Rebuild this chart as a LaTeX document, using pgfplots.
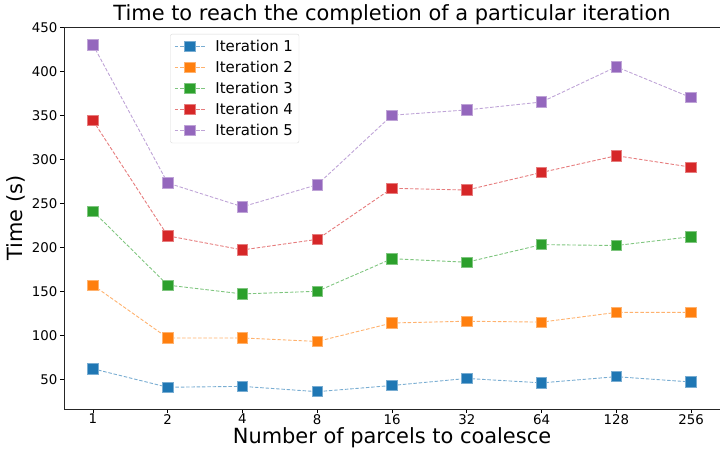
\documentclass[border=0pt]{standalone}
\usepackage{pgfplots}
\pgfplotsset{compat=1.18}
\usepackage{fontspec}
\setmainfont{DejaVu Sans}
\definecolor{c0}{HTML}{1F77B4}
\definecolor{c1}{HTML}{FF7F0E}
\definecolor{c2}{HTML}{2CA02C}
\definecolor{c3}{HTML}{D62728}
\definecolor{c4}{HTML}{9467BD}
\colorlet{e0}{c0!60!white}
\colorlet{e1}{c1!60!white}
\colorlet{e2}{c2!60!white}
\colorlet{e3}{c3!60!white}
\colorlet{e4}{c4!60!white}
\pgfplotsset{
  iterbase/.style={line width=0.9bp, dash pattern=on 3.5bp off 1.8bp,
    mark=square*, mark size=5.2bp},
  s0/.style={iterbase, draw=e0, mark options={solid, fill=c0, draw=e0, line width=0.8bp}},
  s1/.style={iterbase, draw=e1, mark options={solid, fill=c1, draw=e1, line width=0.8bp}},
  s2/.style={iterbase, draw=e2, mark options={solid, fill=c2, draw=e2, line width=0.8bp}},
  s3/.style={iterbase, draw=e3, mark options={solid, fill=c3, draw=e3, line width=0.8bp}},
  s4/.style={iterbase, draw=e4, mark options={solid, fill=c4, draw=e4, line width=0.8bp}},
}
\begin{document}
\begin{tikzpicture}
\begin{axis}[
  name=ax,
  scale only axis,
  width=656bp, height=382bp,
  xmin=-0.387, xmax=8.387,
  ymin=16.3, ymax=450.2,
  xtick={0,...,8},
  xticklabels={1,2,4,8,16,32,64,128,256},
  ytick={50,100,...,450},
  tick align=outside,
  xtick pos=bottom, ytick pos=left,
  major tick length=3.5bp,
  tick style={black, line width=0.8bp},
  axis line style={black!85, line width=0.9bp},
  /pgf/number format/assume math mode=true,
  /pgf/number format/1000 sep={},
  tick label style={font=\fontsize{13.4}{15}\selectfont, inner sep=0pt},
  xticklabel style={yshift=-1.5bp},
  yticklabel style={xshift=-3bp},
  title={Time to reach the completion of a particular iteration},
  title style={at={(axis description cs:0.5,1.0026)}, anchor=base, font=\fontsize{21}{24}\selectfont},
  xlabel={Number of parcels to coalesce},
  xlabel style={at={(axis description cs:0.5,-0.0916)}, anchor=base, font=\fontsize{21}{24}\selectfont},
  ylabel={Time (s)},
  ylabel style={at={(axis description cs:-0.064,0.5)}, anchor=base, font=\fontsize{21}{24}\selectfont},
  legend style={
    at={(axis description cs:0.162,0.982)}, anchor=north west,
    draw=black!15, rounded corners=2bp, fill=white,
    font=\fontsize{15}{17}\selectfont, row sep=4.2bp,
    inner xsep=4bp, inner ysep=4bp,
    /tikz/every odd column/.append style={column sep=8bp},
  },
  legend cell align=left,
  legend image code/.code={
    \draw[#1, mark repeat=2, mark phase=2] plot coordinates {(0bp,0bp) (15bp,0bp) (30bp,0bp)};
  },
]
\addplot[s0] coordinates {(0,62) (1,41) (2,42) (3,36) (4,43) (5,51) (6,46) (7,53) (8,47)};
\addlegendentry{Iteration 1}
\addplot[s1] coordinates {(0,157) (1,97) (2,97) (3,93) (4,114) (5,116) (6,115) (7,126) (8,126)};
\addlegendentry{Iteration 2}
\addplot[s2] coordinates {(0,241) (1,157) (2,147) (3,150) (4,187) (5,183) (6,203) (7,202) (8,212)};
\addlegendentry{Iteration 3}
\addplot[s3] coordinates {(0,344) (1,213) (2,197) (3,209) (4,267) (5,265) (6,285) (7,304) (8,291)};
\addlegendentry{Iteration 4}
\addplot[s4] coordinates {(0,430) (1,273) (2,246) (3,271) (4,350) (5,356) (6,365) (7,405) (8,370)};
\addlegendentry{Iteration 5}
\end{axis}
\pgfresetboundingbox
\path (ax.south west) ++(-64bp,-41bp) rectangle ++(720bp,450bp);
\end{tikzpicture}
\end{document}
